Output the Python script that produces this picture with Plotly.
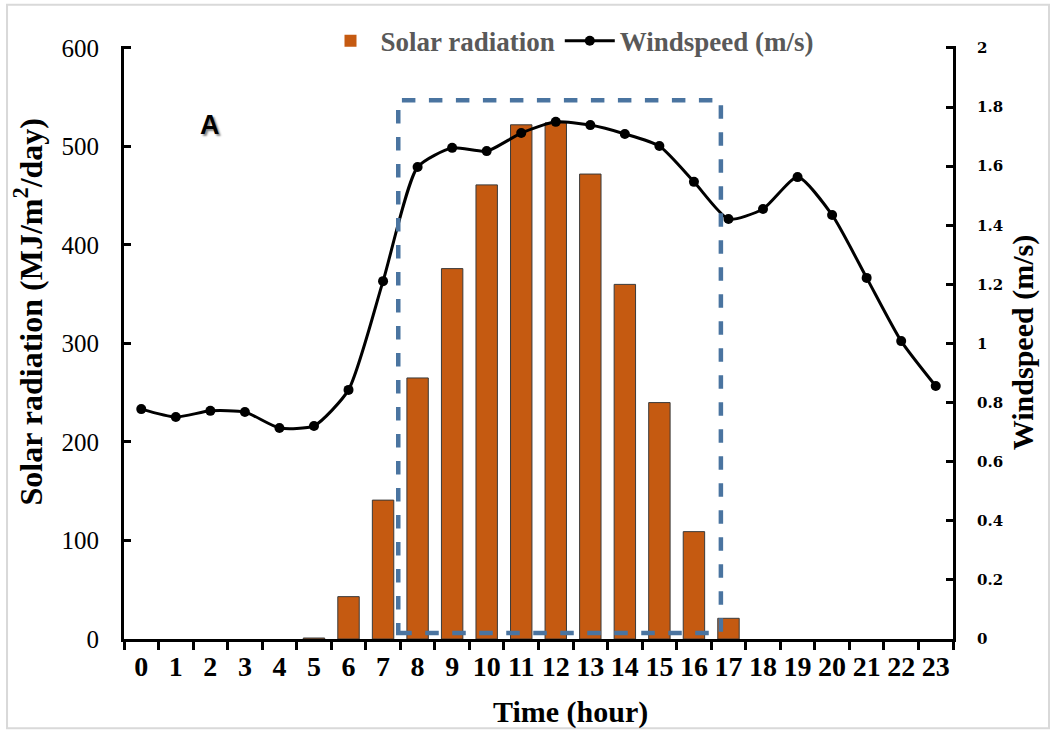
import plotly.graph_objects as go

hours = list(range(24))
hour_labels = [str(h) for h in hours]
solar = [0, 0, 0, 0, 0, 1, 43, 141, 265, 376, 461, 522, 524, 472, 360, 240, 109, 21, 0, 0, 0, 0, 0, 0]
wind = [0.778, 0.751, 0.772, 0.768, 0.714, 0.721, 0.843, 1.211, 1.597, 1.662, 1.651, 1.712,
        1.750, 1.739, 1.709, 1.668, 1.547, 1.421, 1.455, 1.563, 1.435, 1.222, 1.008, 0.856]

SERIF = "Liberation Serif"

fig = go.Figure()
fig.add_trace(go.Bar(
    x=hours, y=solar, name="Solar radiation", width=0.62,
    marker=dict(color="#C55A11",
                line=dict(color="#3a3a3a", width=[0 if v == 0 else 1 for v in solar])),
    yaxis="y", xaxis="x"))
fig.add_trace(go.Scatter(
    x=hours, y=wind, name="Windspeed (m/s)", mode="lines+markers",
    line=dict(color="black", width=3, shape="spline", smoothing=0.6),
    marker=dict(color="black", size=10),
    yaxis="y2", xaxis="x"))

fig.update_layout(
    width=1056, height=732,
    margin=dict(l=124, r=103, t=46, b=93),
    paper_bgcolor="white", plot_bgcolor="white",
    font=dict(family=SERIF, color="black"),
    showlegend=True,
    legend=dict(orientation="h", x=0.538, xanchor="center", y=1.008, yanchor="middle",
                font=dict(family=SERIF, size=27, color="#595959", weight="bold"),
                bgcolor="rgba(0,0,0,0)", itemwidth=50, tracegroupgap=0),
    xaxis=dict(range=[-0.5, 23.5], tickmode="array", tickvals=hours, ticktext=hour_labels,
               ticks="", showline=True, linecolor="black", linewidth=3, showgrid=False,
               zeroline=False,
               tickfont=dict(family=SERIF, size=28, color="black", weight="bold"),
               minor=dict(tickmode="linear", tick0=-0.5, dtick=1, ticks="outside",
                          ticklen=8, tickwidth=3, tickcolor="black", showgrid=False)),
    xaxis2=dict(range=[-0.5, 23.5], overlaying="x", anchor="y", side="bottom",
                tickmode="array", tickvals=[h - 0.5 for h in hours] + [23.5],
                ticks="inside", ticklen=7, tickwidth=3, tickcolor="black",
                showticklabels=False, showgrid=False, zeroline=False, showline=False),
    yaxis=dict(range=[0, 602], dtick=100, ticks="inside", ticklen=7, tickwidth=3,
               tickcolor="black", showline=True, linecolor="black", linewidth=3,
               showgrid=False, zeroline=False, ticklabelstandoff=17,
               tickfont=dict(family=SERIF, size=25, color="black")),
    yaxis2=dict(range=[0, 2 * 602 / 600], dtick=0.2, overlaying="y", side="right",
                anchor="x", ticks="inside", ticklen=7, tickwidth=3, tickcolor="black",
                showline=True, linecolor="black", linewidth=3, showgrid=False,
                zeroline=False, tickprefix="\u2003\u2009",
                tickfont=dict(family="DejaVu Serif", size=15, color="black", weight="bold"),
                title=dict(text="Windspeed (m/s)", standoff=10,
                           font=dict(family=SERIF, size=30, color="black", weight="bold"))),
    shapes=[
        dict(type="rect", xref="x", yref="y", x0=7.44, x1=16.78, y0=6, y1=547,
             line=dict(color="#4A74A0", width=4.5, dash="dash"), layer="above"),
        dict(type="rect", xref="paper", yref="paper", x0=-0.1411, x1=1.1158,
             y0=-0.1506, y1=1.0694, line=dict(color="#d9d9d9", width=2), layer="below"),
    ],
    annotations=[
        dict(text="<b>A</b>", x=2.0, y=522, xref="x", yref="y", showarrow=False,
             font=dict(family="Liberation Sans", size=27, color="black",
                       shadow="2px 2px 2px #888888")),
        dict(text="<b>Solar radiation (MJ/m<sup>2</sup>/day)</b>", textangle=-90,
             x=-0.116, y=0.552, xref="paper", yref="paper", xanchor="center",
             yanchor="middle", showarrow=False,
             font=dict(family=SERIF, size=32, color="black")),
        dict(text="<b>Time (hour)</b>", x=0.538, y=-0.1235, xref="paper", yref="paper",
             xanchor="center", yanchor="middle", showarrow=False,
             font=dict(family=SERIF, size=30, color="black")),
    ],
)

fig.write_html("out.html")
